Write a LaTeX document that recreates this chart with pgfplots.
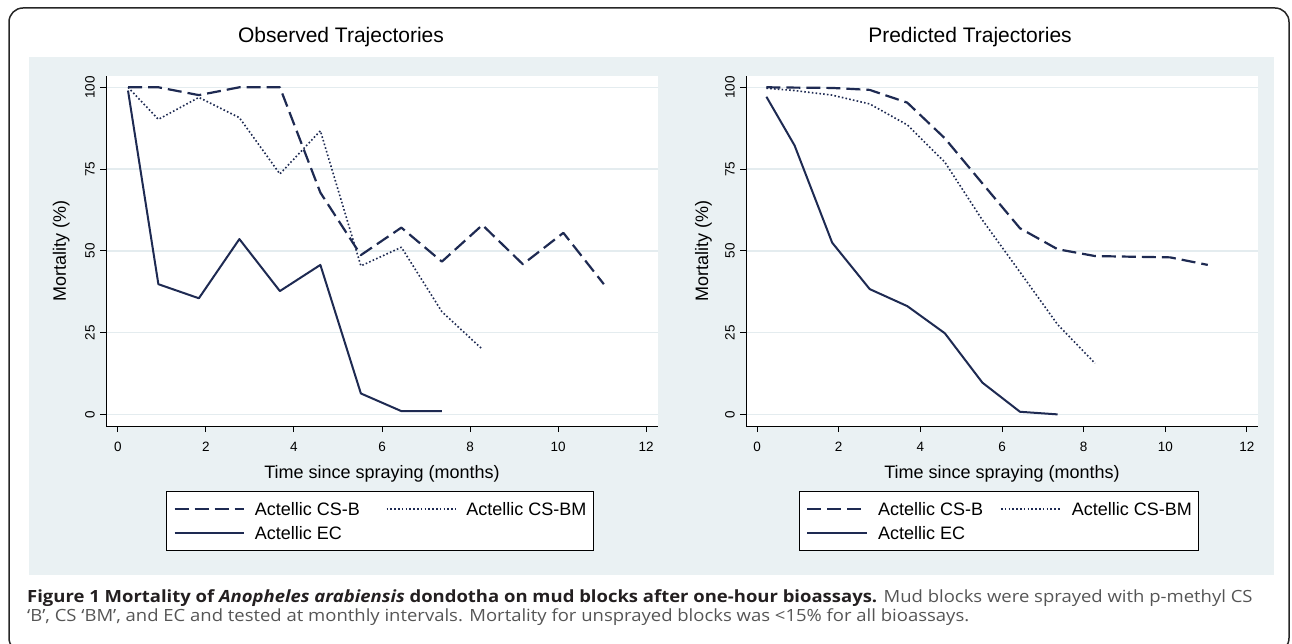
\documentclass[border=0pt]{standalone}
\usepackage{pgfplots}
\pgfplotsset{compat=1.18}
\usepackage{fontspec}
\setmainfont{Liberation Sans}
\newfontfamily\capfont[FakeStretch=1.1]{Open Sans}

\definecolor{stnavy}{RGB}{30,42,82}
\definecolor{stbg}{RGB}{234,241,243}
\definecolor{stgrid}{RGB}{228,236,239}
\definecolor{capgray}{RGB}{85,85,85}
\definecolor{capblack}{RGB}{35,31,32}

\pgfplotsset{
  stata/.style={
    scale only axis, height=350pt,
    xmin=-0.27, xmax=12.27, ymin=-3.55, ymax=103.45,
    axis x line*=bottom, axis y line*=left,
    axis line style={black, line width=1pt},
    tick align=outside, major tick length=6pt,
    tick style={black, line width=1pt},
    xtick={0,2,...,12}, ytick={0,25,50,75,100},
    ymajorgrids, grid style={stgrid, line width=1.5pt},
    axis background/.style={fill=white},
    tick label style={font=\fontsize{13.5}{13.5}\selectfont},
    /pgf/number format/assume math mode=true,
    yticklabel style={xshift=-5pt, rotate=90, anchor=south, inner sep=0pt},
    xticklabel style={anchor=north, inner sep=0pt, yshift=-10pt},
    xlabel={Time since spraying (months)},
    ylabel={Mortality (\%)},
    every axis x label/.style={at={(axis description cs:0.5,-0.1486)}, anchor=base,
      inner sep=0pt, font=\fontsize{18}{18}\selectfont},
    every axis y label/.style={rotate=90, anchor=base, inner sep=0pt,
      font=\fontsize{18}{18}\selectfont},
    legend columns=2,
    legend cell align=left,
    legend style={anchor=north, draw=black, line width=0.8pt, fill=white,
      inner xsep=7pt, inner ysep=9pt, row sep=7pt,
      font=\fontsize{18}{18}\selectfont,
      nodes={inner sep=0pt, text height=15pt, text depth=2pt},
      /tikz/every odd column/.append style={column sep=10pt}},
  },
  csb/.style={stnavy, line width=2.2pt, dash pattern=on 14pt off 6pt, line join=round},
  csbm/.style={stnavy, line width=1.6pt, dash pattern=on 1.6pt off 2.2pt, line join=round},
  ec/.style={stnavy, line width=2pt, line join=round},
}

\begin{document}
\begin{tikzpicture}
\useasboundingbox (0,0) rectangle (1292pt,-644pt);
\fill[stbg] (29pt,-57pt) rectangle (1274pt,-575pt);
\draw[black!85, line width=1.5pt, rounded corners=14pt] (9pt,-8pt) rectangle (1289pt,-652pt);

\node[anchor=base, font=\fontsize{21}{21}\selectfont] at (341pt,-43pt) {Observed Trajectories};
\node[anchor=base, font=\fontsize{21}{21}\selectfont] at (970pt,-43pt) {Predicted Trajectories};

% observed
\begin{axis}[stata, width=552pt, at={(106pt,-426pt)}, anchor=south west,
  ylabel style={at={(axis description cs:-0.0725,0.5)}},
  legend style={at={(axis description cs:0.4964,-0.1857)},
    /tikz/every even column/.append style={column sep=26pt}},
  legend image code/.code={\draw[#1] (0pt,0pt) -- (69pt,0pt);}]
\addplot[csb] coordinates {(0.23,100) (0.92,100) (1.84,97.6) (2.76,100) (3.68,100) (4.60,67.8) (5.52,48.7) (6.44,57.1) (7.36,46.7) (8.28,57.9) (9.20,45.9) (10.12,55.5) (11.04,39.8)};
\addplot[csbm] coordinates {(0.23,100) (0.92,90.2) (1.84,96.9) (2.76,90.7) (3.68,73.5) (4.60,86.7) (5.52,45.4) (6.44,51.1) (7.36,31.4) (8.28,19.9)};
\addplot[ec] coordinates {(0.23,99) (0.92,39.8) (1.84,35.5) (2.76,53.6) (3.68,37.7) (4.60,45.7) (5.52,6.4) (6.44,1.0) (7.36,1.0)};
\legend{Actellic CS-B, Actellic CS-BM, Actellic EC}
\end{axis}

% predicted
\begin{axis}[stata, width=512pt, at={(746pt,-426pt)}, anchor=south west,
  ylabel style={at={(axis description cs:-0.0742,0.5)}},
  legend style={at={(axis description cs:0.494,-0.1857)},
    /tikz/every even column/.append style={column sep=17pt}},
  legend image code/.code={\draw[#1] (0pt,0pt) -- (60pt,0pt);}]
\addplot[csb] coordinates {(0.23,100) (0.92,99.9) (1.84,99.8) (2.76,99.2) (3.68,95.3) (4.60,84.4) (5.52,70.6) (6.44,56.9) (7.36,50.5) (8.28,48.4) (9.20,48.2) (10.12,48.0) (11.04,45.7)};
\addplot[csbm] coordinates {(0.23,99.7) (0.92,99.0) (1.84,97.6) (2.76,94.9) (3.68,88.5) (4.60,77.1) (5.52,59.4) (6.44,43.5) (7.36,27.5) (8.28,15.6)};
\addplot[ec] coordinates {(0.23,97.1) (0.92,82.2) (1.84,52.5) (2.76,38.3) (3.68,33.1) (4.60,24.8) (5.52,9.7) (6.44,0.8) (7.36,0)};
\legend{Actellic CS-B, Actellic CS-BM, Actellic EC}
\end{axis}

\node[anchor=base west, font=\capfont\fontsize{16.8}{16.8}\selectfont, inner sep=0pt] at (27pt,-602pt)
  {\textcolor{capblack}{\bfseries Figure 1 Mortality of \textit{Anopheles arabiensis} dondotha on mud blocks after one-hour bioassays.} \textcolor{capgray}{Mud blocks were sprayed with p-methyl CS}};
\node[anchor=base west, font=\capfont\fontsize{16.8}{16.8}\selectfont, inner sep=0pt, text=capgray] at (27pt,-621pt)
  {‘B’, CS ‘BM’, and EC and tested at monthly intervals. Mortality for unsprayed blocks was <15\% for all bioassays.};
\end{tikzpicture}
\end{document}
